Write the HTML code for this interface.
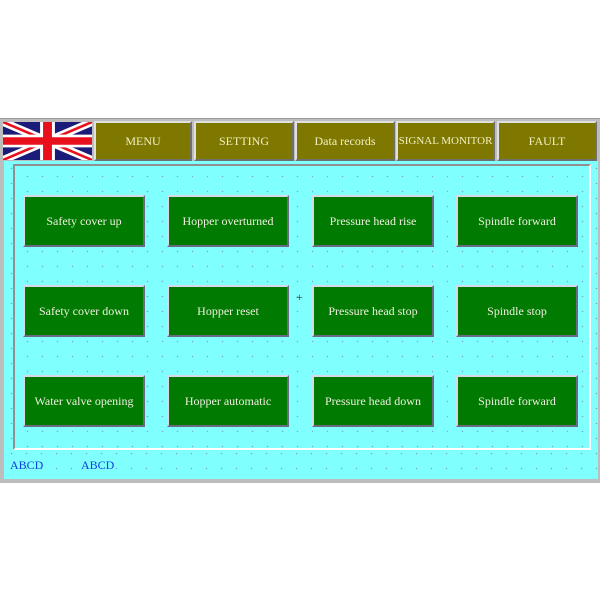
<!DOCTYPE html>
<html><head><style>
body{margin:0;width:600px;height:600px;background:#fff;position:relative;overflow:hidden;font-family:"Liberation Serif",serif;}
.a{position:absolute;box-sizing:border-box;}
.hb{background:#7f7800;color:#f4f0c0;font-size:12px;display:flex;align-items:center;justify-content:center;border:2px solid;border-color:#e0e0e0 #707070 #707070 #e0e0e0;top:121px;height:40px;}
.b{background:#007a00;color:#f0f0e0;font-size:12px;display:flex;align-items:center;justify-content:center;border:2px solid;border-color:#d8d8e8 #6a6a80 #6a6a80 #d8d8e8;width:122px;height:52px;}
.dots{background-image:radial-gradient(circle,#7aa8c8 0.6px,transparent 0.9px);background-size:15px 15px;}
</style></head><body>
<div class="a" style="left:0;top:118px;width:600px;height:365px;background:#bdbdbd;border-top:1px solid #999;"></div>
<div class="a dots" style="left:4px;top:161px;width:594px;height:318px;background-color:#80ffff;"></div>
<div class="a dots" style="left:13px;top:164px;width:578px;height:286px;border:2px solid;border-color:#909090 #fff #fff #909090;background-color:#80ffff;background-position:5px 3px;"></div>
<svg class="a" style="left:3px;top:122px" width="89" height="38" viewBox="0 0 60 30" preserveAspectRatio="none">
<rect width="60" height="30" fill="#1b1b7a"/>
<path d="M0,0 L60,30 M60,0 L0,30" stroke="#fff" stroke-width="6"/>
<path d="M0,0 L60,30 M60,0 L0,30" stroke="#e8101c" stroke-width="2"/>
<path d="M30,0 V30 M0,15 H60" stroke="#fff" stroke-width="10"/>
<path d="M30,0 V30 M0,15 H60" stroke="#e8101c" stroke-width="6"/>
</svg>
<div class="a hb" style="left:94px;width:98px;">MENU</div>
<div class="a hb" style="left:194px;width:100px;">SETTING</div>
<div class="a hb" style="left:295px;width:100px;">Data records</div>
<div class="a hb" style="left:396px;width:99px;font-size:11px;">SIGNAL MONITOR</div>
<div class="a hb" style="left:497px;width:100px;">FAULT</div>

<div class="a b" style="left:23px;top:195px;">Safety cover up</div>
<div class="a b" style="left:167px;top:195px;">Hopper overturned</div>
<div class="a b" style="left:312px;top:195px;">Pressure head rise</div>
<div class="a b" style="left:456px;top:195px;">Spindle forward</div>
<div class="a b" style="left:23px;top:285px;">Safety cover down</div>
<div class="a b" style="left:167px;top:285px;">Hopper reset</div>
<div class="a b" style="left:312px;top:285px;">Pressure head stop</div>
<div class="a b" style="left:456px;top:285px;">Spindle stop</div>
<div class="a b" style="left:23px;top:375px;">Water valve opening</div>
<div class="a b" style="left:167px;top:375px;">Hopper automatic</div>
<div class="a b" style="left:312px;top:375px;">Pressure head down</div>
<div class="a b" style="left:456px;top:375px;">Spindle forward</div>
<div class="a" style="left:296px;top:290px;font-size:12px;color:#333;">+</div>
<div class="a" style="left:10px;top:458px;font-size:12px;color:#1040e0;">ABCD</div>
<div class="a" style="left:81px;top:458px;font-size:12px;color:#1040e0;">ABCD</div>
</body></html>
